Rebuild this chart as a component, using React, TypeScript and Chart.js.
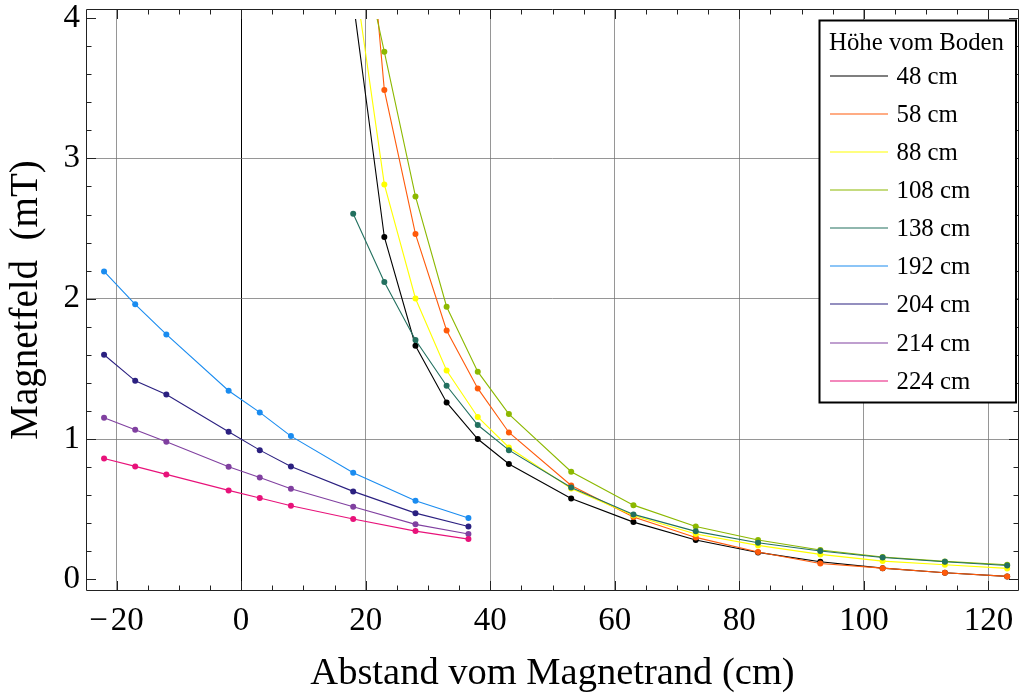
import React, { useEffect, useRef } from 'react';
import { Chart, registerables } from 'chart.js';

Chart.register(...registerables);

// ---- data ----
const xRight = [18, 23, 28, 33, 38, 43, 53, 63, 73, 83, 93, 103, 113, 123];
const xLeft = [-22, -17, -12, -2, 3, 8, 18, 28, 36.5];

const h48 = [4.12, 2.44, 1.665, 1.261, 1.0, 0.822, 0.577, 0.408, 0.28, 0.192, 0.125, 0.08, 0.047, 0.021];
const h58 = [6.0, 3.487, 2.461, 1.774, 1.361, 1.047, 0.669, 0.444, 0.299, 0.195, 0.113, 0.08, 0.047, 0.021];
const h88 = [4.37, 2.815, 2.002, 1.489, 1.157, 0.94, 0.648, 0.455, 0.323, 0.242, 0.178, 0.13, 0.104, 0.078];
const h108 = [4.77, 3.76, 2.729, 1.943, 1.48, 1.178, 0.767, 0.529, 0.377, 0.28, 0.209, 0.159, 0.128, 0.104];
const h138 = [2.606, 2.119, 1.706, 1.38, 1.1, 0.921, 0.655, 0.463, 0.342, 0.261, 0.202, 0.156, 0.126, 0.099];

const h192 = [2.195, 1.96, 1.746, 1.344, 1.19, 1.021, 0.76, 0.56, 0.437];
const h204 = [1.601, 1.415, 1.318, 1.052, 0.921, 0.805, 0.627, 0.472, 0.377];
const h214 = [1.152, 1.066, 0.981, 0.803, 0.726, 0.646, 0.518, 0.392, 0.323];
const h224 = [0.862, 0.805, 0.748, 0.634, 0.58, 0.525, 0.43, 0.344, 0.287];

const seriesLabels = ['48 cm', '58 cm', '88 cm', '108 cm', '138 cm', '192 cm', '204 cm', '214 cm', '224 cm'];
const seriesColors = ['#000000', '#ff5a0a', '#ffff00', '#8cb800', '#22705f', '#1a8cf0', '#2b2080', '#8040a0', '#e8127a'];
const seriesX = [xRight, xRight, xRight, xRight, xRight, xLeft, xLeft, xLeft, xLeft];
const seriesY = [h48, h58, h88, h108, h138, h192, h204, h214, h224];

const legendTitle = 'Höhe vom Boden';
const xTitle = 'Abstand vom Magnetrand (cm)';
const yTitle = 'Magnetfeld  (mT)';
const xTicks = [-20, 0, 20, 40, 60, 80, 100, 120];
const yTicks = [0, 1, 2, 3, 4];

const FONT = '"Liberation Serif", "Times New Roman", serif';

const framePlugin = {
  id: 'framePlugin',
  afterDatasetsDraw(chart: any) {
    const { ctx, chartArea: a, scales } = chart;
    const xs = scales.x;
    const ys = scales.y;
    ctx.save();
    ctx.strokeStyle = '#222';
    ctx.lineWidth = 1;
    ctx.beginPath();
    ctx.rect(a.left + 0.5, a.top + 0.5, a.right - a.left - 1, a.bottom - a.top - 1);
    ctx.stroke();
    ctx.beginPath();
    for (let i = -5; i <= 25; i++) {
      const v = i * 5;
      if (v < xs.min || v > xs.max) continue;
      const px = Math.round(xs.getPixelForValue(v)) + 0.5;
      const len = v % 20 === 0 ? 10 : 5.5;
      ctx.moveTo(px, a.bottom);
      ctx.lineTo(px, a.bottom - len);
      ctx.moveTo(px, a.top);
      ctx.lineTo(px, a.top + len);
    }
    for (let i = 0; i <= 20; i++) {
      const v = i / 5;
      if (v < ys.min || v > ys.max) continue;
      const py = Math.round(ys.getPixelForValue(v)) + 0.5;
      const len = i % 5 === 0 ? 10 : 5.5;
      ctx.moveTo(a.left, py);
      ctx.lineTo(a.left + len, py);
      ctx.moveTo(a.right, py);
      ctx.lineTo(a.right - len, py);
    }
    ctx.stroke();
    ctx.restore();
  },
  afterDraw(chart: any) {
    const { ctx } = chart;
    ctx.save();
    const bx = 819.5, by = 20.5, bw = 196.5, bh = 382;
    ctx.fillStyle = '#ffffff';
    ctx.fillRect(bx, by, bw, bh);
    ctx.strokeStyle = '#000';
    ctx.lineWidth = 2;
    ctx.strokeRect(bx, by, bw, bh);
    ctx.fillStyle = '#000';
    ctx.font = `24.8px ${FONT}`;
    ctx.textBaseline = 'alphabetic';
    ctx.textAlign = 'left';
    ctx.fillText(legendTitle, 829, 49.5);
    seriesLabels.forEach((lab, i) => {
      const ly = Math.round(75.7 + i * 38.13);
      ctx.strokeStyle = seriesColors[i];
      ctx.lineWidth = 1.2;
      ctx.beginPath();
      ctx.moveTo(830, ly);
      ctx.lineTo(888, ly);
      ctx.stroke();
      ctx.fillText(lab, 896.5, ly + 7.8);
    });
    ctx.restore();
  },
};

export default function App() {
  const ref = useRef<HTMLCanvasElement | null>(null);
  useEffect(() => {
    if (!ref.current) return;
    const datasets = seriesLabels.map((lab, i) => ({
      label: lab,
      data: seriesX[i].map((x, j) => ({ x, y: seriesY[i][j] })),
      borderColor: seriesColors[i],
      backgroundColor: seriesColors[i],
      pointBackgroundColor: seriesColors[i],
      pointBorderWidth: 0,
      pointRadius: 3,
      borderWidth: 1.1,
      showLine: true,
      tension: 0,
      order: -i,
      clip: { left: 0, top: -10, right: 0, bottom: 0 },
    }));
    const chart = new Chart(ref.current, {
      type: 'scatter',
      data: { datasets },
      plugins: [framePlugin],
      options: {
        responsive: false,
        animation: false,
        devicePixelRatio: 1,
        layout: { padding: { top: 9, right: 3, left: 0, bottom: 0 } },
        plugins: { legend: { display: false }, tooltip: { enabled: false } },
        scales: {
          x: {
            type: 'linear',
            min: -24.9,
            max: 124.9,
            afterFit(scale: any) {
              scale.height = 108;
              scale.paddingLeft = 0;
              scale.paddingRight = 0;
            },
            afterBuildTicks(scale: any) { scale.ticks = xTicks.map((v) => ({ value: v })); },
            border: { display: false },
            grid: {
              drawTicks: false,
              lineWidth: 1,
              color: (c: any) => (c.tick && c.tick.value === 0 ? '#000000' : 'rgba(115,115,115,0.75)'),
            },
            ticks: {
              color: '#000',
              font: { family: FONT, size: 33 },
              padding: 10.5,
              maxRotation: 0,
              autoSkip: false,
              callback: (v: any) => (Number(v) < 0 ? '\u2212\u200A' + Math.abs(Number(v)) : String(v)),
            },
            title: {
              display: true,
              text: xTitle,
              color: '#000',
              font: { family: FONT, size: 38.5 },
              padding: { top: 0, bottom: 2 },
            },
          },
          y: {
            type: 'linear',
            min: -0.083,
            max: 4.065,
            afterFit(scale: any) {
              scale.width = 86;
              scale.paddingTop = 0;
              scale.paddingBottom = 0;
            },
            afterBuildTicks(scale: any) { scale.ticks = yTicks.map((v) => ({ value: v })); },
            border: { display: false },
            grid: {
              drawTicks: false,
              lineWidth: 1,
              color: (c: any) => (c.tick && (c.tick.value === 0 || c.tick.value === 4) ? 'rgba(0,0,0,0)' : 'rgba(115,115,115,0.75)'),
            },
            ticks: {
              color: '#000',
              font: { family: FONT, size: 33 },
              padding: 6,
              autoSkip: false,
              callback: (v: any) => String(v),
            },
            title: {
              display: true,
              text: yTitle,
              color: '#000',
              font: { family: FONT, size: 39 },
              padding: { top: 3, bottom: 0 },
            },
          },
        },
      },
    });
    return () => chart.destroy();
  }, []);
  return (
    <div style={{ position: 'absolute', left: 0, top: 0, width: 1023, height: 699, background: '#fff' }}>
      <canvas ref={ref} width={1023} height={699} style={{ width: 1023, height: 699, display: 'block' }} />
    </div>
  );
}
